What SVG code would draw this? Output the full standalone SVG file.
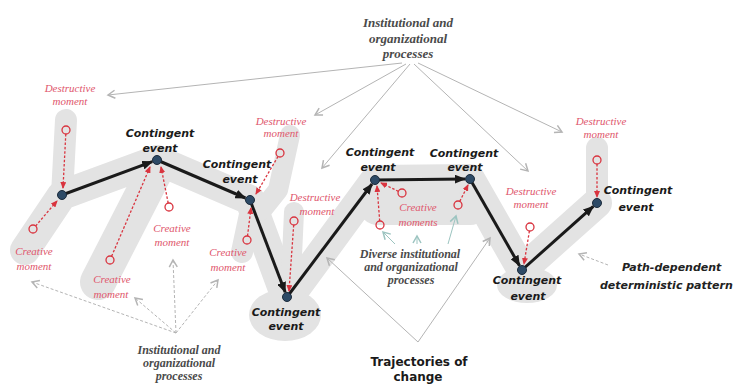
<svg xmlns="http://www.w3.org/2000/svg" width="738" height="385" viewBox="0 0 738 385">
<style>
.band{fill:none;stroke:#e3e3e3;stroke-linecap:round;stroke-linejoin:round}
.main{fill:none;stroke:#1a1a1a;stroke-width:3}
.node{fill:#2d4a66;stroke:#1b2b3b;stroke-width:1}
.rd{fill:none;stroke:#d9343f;stroke-width:1.3;stroke-dasharray:2.5,1.8}
.rc{fill:none;stroke:#d9343f;stroke-width:1.3}
.gc{fill:none;stroke:#b4b4b4;stroke-width:1}
.gcd{fill:none;stroke:#b4b4b4;stroke-width:1;stroke-dasharray:3,2}
.tc{fill:none;stroke:#9cc4c0;stroke-width:1}
.ce{font-family:"DejaVu Sans",sans-serif;font-weight:bold;font-style:italic;font-size:11px;fill:#1a1a1a;text-anchor:middle}
.rt{font-family:"Liberation Serif",serif;font-style:italic;font-size:11px;fill:#e0566c;text-anchor:middle}
.gt{font-family:"Liberation Serif",serif;font-weight:bold;font-style:italic;font-size:13px;fill:#4a4a4a;text-anchor:middle}
.gts{font-family:"Liberation Serif",serif;font-weight:bold;font-style:italic;font-size:12px;fill:#4a4a4a;text-anchor:middle}
.tr{font-family:"DejaVu Sans",sans-serif;font-weight:bold;font-size:12px;fill:#1a1a1a;text-anchor:middle}
.pd{font-family:"DejaVu Sans",sans-serif;font-weight:bold;font-style:italic;font-size:11px;fill:#222;text-anchor:start}
</style>
<defs>
<marker id="ab" markerUnits="userSpaceOnUse" markerWidth="11" markerHeight="9" refX="10" refY="4.5" orient="auto"><path d="M0,0 L11,4.5 L0,9 z" fill="#1a1a1a"/></marker>
<marker id="ar" markerUnits="userSpaceOnUse" markerWidth="7" markerHeight="6" refX="6" refY="3" orient="auto"><path d="M0,0 L7,3 L0,6 z" fill="#d9343f"/></marker>
<marker id="ag" markerUnits="userSpaceOnUse" markerWidth="10" markerHeight="10" refX="8" refY="5" orient="auto"><path d="M1,1 L8,5 L1,9" fill="none" stroke="#b4b4b4" stroke-width="1.5"/></marker>
<marker id="at" markerUnits="userSpaceOnUse" markerWidth="10" markerHeight="10" refX="8" refY="5" orient="auto"><path d="M1,1 L8,5 L1,9" fill="none" stroke="#9cc4c0" stroke-width="1.5"/></marker>
</defs>
<rect width="738" height="385" fill="#ffffff"/>

<!-- shaded trajectory bands -->
<g id="bands">
<polyline class="band" stroke-width="30" points="25,250 62,195 157,160 250,200 287,300 375,180 470,179 522,270 597,203"/>
<polyline class="band" stroke-width="22" points="66,120 62,195"/>
<polyline class="band" stroke-width="36" points="158,165 98,282"/>
<polyline class="band" stroke-width="22" points="252,205 242,252"/>
<polyline class="band" stroke-width="20" points="290,135 278,190 262,210"/>
<polyline class="band" stroke-width="20" points="294,212 290,300"/>
<polyline class="band" stroke-width="40" points="378,205 470,205"/>
<polyline class="band" stroke-width="22" points="597,148 597,203"/>
<polyline class="band" stroke-width="22" points="470,190 495,235"/>
<ellipse cx="285" cy="315" rx="36" ry="26" fill="#e3e3e3"/>
<ellipse cx="527" cy="285" rx="30" ry="18" fill="#e3e3e3"/>
</g>

<!-- connectors -->
<g id="connectors">
<!-- main trajectory -->
<line class="main" x1="62" y1="195" x2="152.3" y2="161.7" marker-end="url(#ab)"/>
<line class="main" x1="157" y1="160" x2="245.4" y2="198" marker-end="url(#ab)"/>
<line class="main" x1="250" y1="200" x2="285.2" y2="292.3" marker-end="url(#ab)"/>
<line class="main" x1="287" y1="297" x2="372" y2="184" marker-end="url(#ab)"/>
<line class="main" x1="375" y1="180" x2="465" y2="179" marker-end="url(#ab)"/>
<line class="main" x1="470" y1="179" x2="519.5" y2="265.7" marker-end="url(#ab)"/>
<line class="main" x1="522" y1="270" x2="593.3" y2="206.3" marker-end="url(#ab)"/>

<!-- red dashed moments -->
<line class="rd" x1="65.8" y1="134" x2="63" y2="188" marker-end="url(#ar)"/>
<line class="rd" x1="35.6" y1="226" x2="57" y2="201" marker-end="url(#ar)"/>
<line class="rd" x1="111.6" y1="256.3" x2="150" y2="167" marker-end="url(#ar)"/>
<line class="rd" x1="168.2" y1="203" x2="161" y2="167" marker-end="url(#ar)"/>
<line class="rd" x1="278" y1="156.5" x2="256" y2="194" marker-end="url(#ar)"/>
<line class="rd" x1="247.5" y1="236" x2="251" y2="208" marker-end="url(#ar)"/>
<line class="rd" x1="293.7" y1="225" x2="289" y2="291" marker-end="url(#ar)"/>
<line class="rd" x1="398.4" y1="191.3" x2="381" y2="183" marker-end="url(#ar)"/>
<line class="rd" x1="379.7" y1="221" x2="377" y2="186" marker-end="url(#ar)"/>
<line class="rd" x1="459.8" y1="201.4" x2="468" y2="185" marker-end="url(#ar)"/>
<line class="rd" x1="529.4" y1="231" x2="524" y2="264" marker-end="url(#ar)"/>
<line class="rd" x1="597" y1="164" x2="597" y2="197" marker-end="url(#ar)"/>

<!-- top institutional connectors -->
<line class="gc" x1="402" y1="63" x2="108" y2="95" marker-end="url(#ag)"/>
<line class="gc" x1="406" y1="64" x2="315" y2="115" marker-end="url(#ag)"/>
<line class="gc" x1="410" y1="64" x2="322" y2="168" marker-end="url(#ag)"/>
<line class="gc" x1="414" y1="64" x2="528" y2="171" marker-end="url(#ag)"/>
<line class="gc" x1="418" y1="63" x2="562" y2="132" marker-end="url(#ag)"/>

<!-- bottom-left institutional connectors -->
<line class="gcd" x1="176" y1="333" x2="32" y2="282" marker-end="url(#ag)"/>
<line class="gcd" x1="176" y1="333" x2="135" y2="298" marker-end="url(#ag)"/>
<line class="gcd" x1="176" y1="333" x2="173" y2="260" marker-end="url(#ag)"/>
<line class="gcd" x1="176" y1="333" x2="218" y2="280" marker-end="url(#ag)"/>

<!-- diverse processes connectors -->
<line class="tc" x1="395" y1="244" x2="383" y2="232" marker-end="url(#at)"/>
<line class="tc" x1="417" y1="244" x2="417" y2="236" marker-end="url(#at)"/>
<line class="tc" x1="448" y1="244" x2="456" y2="216" marker-end="url(#at)"/>

<!-- trajectories connectors -->
<line class="gc" x1="418" y1="342" x2="327" y2="258" marker-end="url(#ag)"/>
<line class="gc" x1="418" y1="342" x2="490" y2="238" marker-end="url(#ag)"/>

<!-- path-dependent connector -->
<line class="gcd" x1="608" y1="265" x2="579" y2="254" marker-end="url(#ag)"/>
</g>

<!-- moment circles -->
<g id="moment-circles">
<circle class="rc" cx="66" cy="130" r="4"/>
<circle class="rc" cx="33" cy="229" r="4"/>
<circle class="rc" cx="110" cy="260" r="4"/>
<circle class="rc" cx="169" cy="207" r="4"/>
<circle class="rc" cx="280" cy="153" r="4"/>
<circle class="rc" cx="247" cy="240" r="4"/>
<circle class="rc" cx="294" cy="221" r="4"/>
<circle class="rc" cx="402" cy="193" r="4"/>
<circle class="rc" cx="380" cy="225" r="4"/>
<circle class="rc" cx="458" cy="205" r="4"/>
<circle class="rc" cx="530" cy="227" r="4"/>
<circle class="rc" cx="597" cy="160" r="4"/>
</g>

<!-- contingent event nodes -->
<g id="event1"><circle class="node" cx="62" cy="195" r="4.5"/></g>
<g id="event2"><circle class="node" cx="157" cy="160" r="4.5"/><text class="ce" x="160" y="137">Contingent</text><text class="ce" x="160" y="152">event</text></g>
<g id="event3"><circle class="node" cx="250" cy="200" r="4.5"/><text class="ce" x="237" y="168">Contingent</text><text class="ce" x="240" y="183">event</text></g>
<g id="event4"><circle class="node" cx="287" cy="297" r="4.5"/><text class="ce" x="286" y="316">Contingent</text><text class="ce" x="286" y="330">event</text></g>
<g id="event5"><circle class="node" cx="375" cy="180" r="4.5"/><text class="ce" x="380" y="156">Contingent</text><text class="ce" x="378" y="171">event</text></g>
<g id="event6"><circle class="node" cx="470" cy="179" r="4.5"/><text class="ce" x="464" y="157">Contingent</text><text class="ce" x="465" y="171">event</text></g>
<g id="event7"><circle class="node" cx="522" cy="270" r="4.5"/><text class="ce" x="527" y="284">Contingent</text><text class="ce" x="528" y="300">event</text></g>
<g id="event8"><circle class="node" cx="597" cy="203" r="4.5"/><text class="ce" x="638" y="194">Contingent</text><text class="ce" x="636" y="211">event</text></g>

<!-- moment labels -->
<g id="m-destr-1"><text class="rt" x="70" y="92">Destructive</text><text class="rt" x="70" y="105">moment</text></g>
<g id="m-creat-1"><text class="rt" x="34" y="255">Creative</text><text class="rt" x="34" y="270">moment</text></g>
<g id="m-creat-2"><text class="rt" x="112" y="283">Creative</text><text class="rt" x="111" y="298">moment</text></g>
<g id="m-creat-3"><text class="rt" x="172" y="232">Creative</text><text class="rt" x="172" y="246">moment</text></g>
<g id="m-creat-4"><text class="rt" x="228" y="256">Creative</text><text class="rt" x="228" y="271">moment</text></g>
<g id="m-destr-2"><text class="rt" x="281" y="125">Destructive</text><text class="rt" x="281" y="137">moment</text></g>
<g id="m-destr-3"><text class="rt" x="315" y="201">Destructive</text><text class="rt" x="317" y="215">moment</text></g>
<g id="m-creat-5"><text class="rt" x="418" y="211">Creative</text><text class="rt" x="418" y="226">moments</text></g>
<g id="m-destr-4"><text class="rt" x="531" y="195">Destructive</text><text class="rt" x="531" y="208">moment</text></g>
<g id="m-destr-5"><text class="rt" x="601" y="125">Destructive</text><text class="rt" x="601" y="138">moment</text></g>

<!-- process labels -->
<g id="inst-top"><text class="gt" x="408" y="27">Institutional and</text><text class="gt" x="408" y="43">organizational</text><text class="gt" x="408" y="58">processes</text></g>
<g id="inst-bottom"><text class="gts" x="179" y="354">Institutional and</text><text class="gts" x="179" y="367">organizational</text><text class="gts" x="179" y="380">processes</text></g>
<g id="inst-diverse"><text class="gts" x="410" y="258">Diverse institutional</text><text class="gts" x="411" y="271">and organizational</text><text class="gts" x="411" y="284">processes</text></g>
<g id="trajectories"><text class="tr" x="419" y="366">Trajectories of</text><text class="tr" x="418" y="381">change</text></g>
<g id="path-dependent"><text class="pd" x="622" y="271">Path-dependent</text><text class="pd" x="600" y="289">deterministic pattern</text></g>
</svg>
